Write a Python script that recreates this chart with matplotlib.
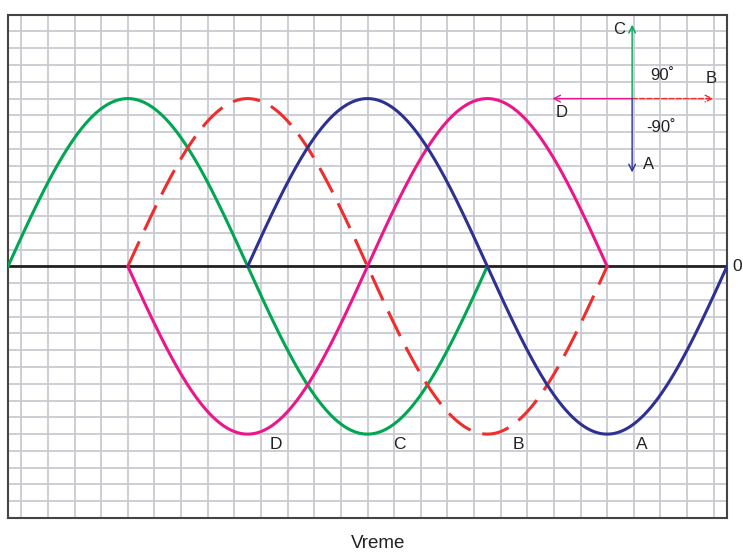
import numpy as np
import matplotlib.pyplot as plt

plt.rcParams['font.family'] = ['Liberation Sans', 'DejaVu Sans']

# waveforms: name, phase start (deg), end (deg), shift (deg), sign, colour, style
names = ["C", "B", "D", "A"]
starts = [0, 90, 90, 180]
ends = [360, 450, 450, 540]
shifts = [0, 90, 90, 180]
signs = [1, 1, -1, 1]
colors = ["#00a651", "#ee2d2d", "#ec168c", "#2e3192"]
styles = ["-", (0, (9, 4)), "-", "-"]

# labels under the troughs (deg)
trough_labels = ["D", "C", "B", "A"]
trough_x = [201, 294, 383, 476]

# phasor arrows, same order as names
ph_dx = [0, 61, -60, 0]
ph_dy = [0.44, 0, 0, -0.44]
ph_center = (468.75, 1.0)

fig = plt.figure(figsize=(7.43, 5.53), dpi=100)
ax = fig.add_axes([8 / 743, 35 / 553, 719 / 743, 503.3 / 553])
ax.set_xlim(0, 540)
ax.set_ylim(-1.5, 1.5)

# grid
for gx in np.arange(10, 540, 20):
    ax.axvline(gx, color="#c9cad1", lw=1.3, zorder=0)
for gy in np.arange(-1.4, 1.45, 0.1):
    ax.axhline(gy, color="#c9cad1", lw=1.3, zorder=0)

ax.axhline(0, color="#222222", lw=2.0, zorder=2)

for i in range(len(names)):
    x = np.linspace(starts[i], ends[i], 400)
    y = signs[i] * np.sin(np.radians(x - shifts[i]))
    ax.plot(x, y, color=colors[i], lw=2.2, linestyle=styles[i], zorder=3)

for lab, tx in zip(trough_labels, trough_x):
    ax.text(tx, -1.06, lab, fontsize=12.5, ha="center", va="center", color="#222222")

# phasor diagram
cx, cy = ph_center
for i in range(len(names)):
    ls = "--" if names[i] == "B" else "-"
    ax.annotate("", xy=(cx + ph_dx[i], cy + ph_dy[i]), xytext=(cx, cy),
                arrowprops=dict(arrowstyle="->", color=colors[i], lw=1.0,
                                linestyle=ls, shrinkA=0, shrinkB=0,
                                mutation_scale=12),
                zorder=4)

ax.text(cx - 10, 1.41, "C", fontsize=12, ha="center", va="center", color="#222222")
ax.text(cx + 23, 1.14, "90˚", fontsize=12, ha="center", va="center", color="#222222")
ax.text(cx + 59, 1.12, "B", fontsize=12, ha="center", va="center", color="#222222")
ax.text(cx - 53, 0.92, "D", fontsize=12, ha="center", va="center", color="#222222")
ax.text(cx + 22, 0.83, "-90˚", fontsize=12, ha="center", va="center", color="#222222")
ax.text(cx + 12, 0.61, "A", fontsize=12, ha="center", va="center", color="#222222")

ax.text(1.007, 0.5, "0", transform=ax.transAxes, fontsize=12.5, ha="left",
        va="center", color="#222222", clip_on=False)

ax.set_xticks([])
ax.set_yticks([])
for sp in ax.spines.values():
    sp.set_color("#444444")
    sp.set_linewidth(1.5)

fig.text(378 / 743, 1 - 543 / 553, "Vreme", fontsize=13.5, ha="center", va="center", color="#222222")

fig.savefig("out.png", dpi=100)
